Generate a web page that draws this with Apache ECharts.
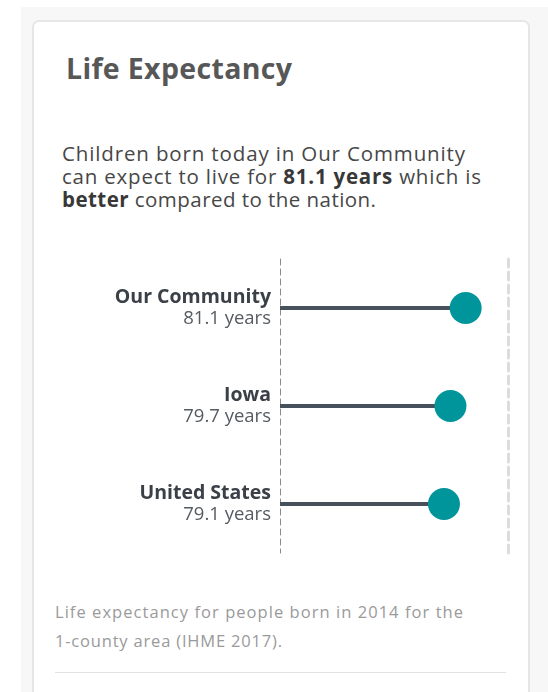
<!DOCTYPE html>
<html>
<head>
<meta charset="utf-8">
<script src="https://cdn.jsdelivr.net/npm/echarts@6/dist/echarts.min.js"></script>
<style>
    body{ margin:0; background:#fff; font-family: "Open Sans", "Noto Sans", sans-serif; }
    .page{ position:absolute; left:21px; top:7px; width:527px; height:685px; background:#f7f7f7; }
    .card{ position:absolute; left:32px; top:20px; width:494px; height:720px; background:#fff;
        border:2px solid #e6e6e6; border-radius:7px; }
    .line{ position:absolute; white-space:nowrap; }
    .line span{ display:inline-block; }
    .title{ left:66px; top:54px; font-size:28.5px; line-height:28px; font-weight:bold; color:#575757; }
    .desc{ left:62px; font-size:20.5px; line-height:23px; color:#474747; }
    .desc b{ color:#383838; }
    .note{ left:55px; font-size:16.5px; line-height:29px; color:#9a9a9a; }
    .rule{ position:absolute; left:55px; top:672px; width:451px; height:0; border-top:1px solid #e2e2e2; }
    #chart{ position:absolute; left:0; top:250px; width:548px; height:310px; }
</style>
</head>
<body>
<div class="page"></div>
<div class="card"></div>
<div class="line title"><span data-w="226">Life Expectancy</span></div>
<div class="line desc" style="top:142px"><span data-w="403">Children born today in Our Community</span></div>
<div class="line desc" style="top:165px"><span data-w="419">can expect to live for <b>81.1 years</b> which is</span></div>
<div class="line desc" style="top:188px"><span data-w="314"><b>better</b> compared to the nation.</span></div>
<div class="line note" style="top:597px"><span data-w="408">Life expectancy for people born in 2014 for the</span></div>
<div class="line note" style="top:626px"><span data-w="227">1-county area (IHME 2017).</span></div>
<div class="rule"></div>
<div id="chart"></div>
<script>
    // 数据
    const places = ['Our Community', 'Iowa', 'United States'];
    const years = [81.1, 79.7, 79.1];
    const axisMin = 64;
    const axisMax = 85;

    // 文字宽度对齐
    function fitText() {
        document.querySelectorAll('.line span').forEach((el) => {
            el.style.letterSpacing = '0px';
            const txt = el.textContent.trim();
            const w = el.getBoundingClientRect().width;
            const target = +el.dataset.w;
            el.style.letterSpacing = `${(target - w) / Math.max(txt.length - 1, 1)}px`;
        });
    }
    fitText();

    const chart = echarts.init(document.getElementById('chart'));
    const option = {
        animation: false,
        grid: {
            left: 280,
            right: 40,
            top: 9,
            bottom: 7
        },
        xAxis: {
            type: 'value',
            min: axisMin,
            max: axisMax,
            show: false
        },
        yAxis: [{
            type: 'category',
            inverse: true,
            data: places,
            axisTick: { show: false },
            axisLine: {
                lineStyle: { color: '#8a8a8a', width: 1, type: [6, 4] }
            },
            axisLabel: {
                margin: 9,
                align: 'right',
                formatter(value, idx) {
                    return '{b|' + value + '}\n{v|' + years[idx] + ' years}';
                },
                rich: {
                    b: { fontFamily: 'Open Sans', fontSize: 19.5, fontWeight: 'bold', color: '#3a4048', lineHeight: 21, align: 'right' },
                    v: { fontFamily: 'Open Sans', fontSize: 18.5, color: '#555b61', lineHeight: 21, align: 'right' }
                }
            }
        }, {
            type: 'category',
            inverse: true,
            position: 'right',
            data: places,
            axisTick: { show: false },
            axisLabel: { show: false },
            axisLine: {
                lineStyle: { color: '#dcdcdc', width: 3, type: [8, 5] }
            }
        }],
        series: [{
            type: 'bar',
            data: years,
            barWidth: 4,
            clip: true,
            itemStyle: { color: '#46515b' },
            silent: true
        }, {
            type: 'scatter',
            data: years,
            symbolSize: 32,
            itemStyle: { color: '#00959b', opacity: 1 },
            z: 3
        }]
    };
    chart.setOption(option);
</script>
</body>
</html>
